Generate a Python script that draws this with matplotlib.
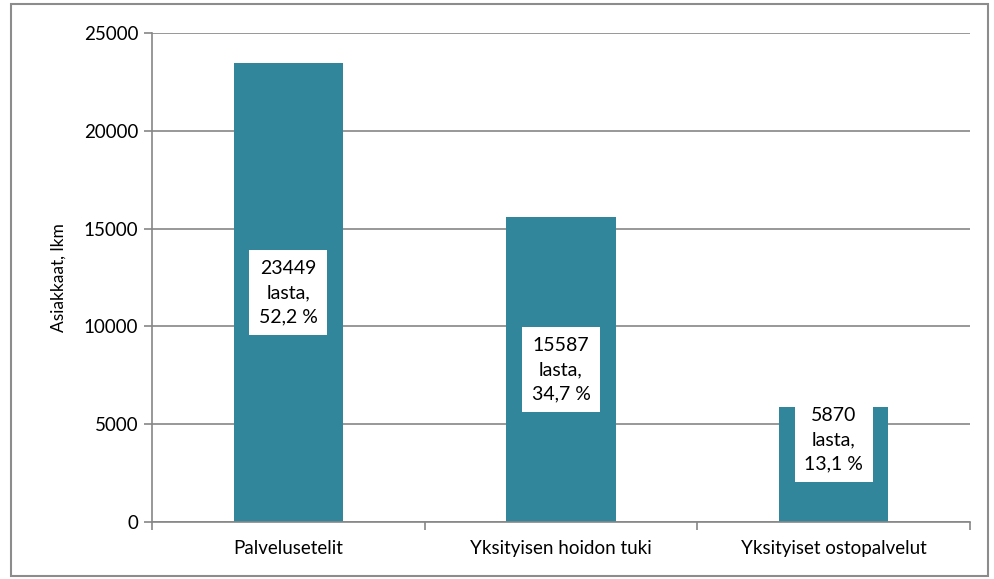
import numpy as np
import matplotlib.pyplot as plt
from matplotlib.patches import Rectangle

plt.rcParams['font.family'] = ['Lato', 'DejaVu Sans']

categories = ["Palvelusetelit", "Yksityisen hoidon tuki", "Yksityiset ostopalvelut"]
values = [23449, 15587, 5870]
shares = ["52,2 %", "34,7 %", "13,1 %"]

bar_color = "#31869B"
grid_color = "#868686"

fig = plt.figure(figsize=(9.95, 5.79), dpi=100)
ax = fig.add_axes([152 / 995, 1 - 522 / 579, 818 / 995, 489 / 579])

# outer chart frame
fig.patches.append(Rectangle((11 / 995, 1 - 576 / 579), 977 / 995, 572 / 579,
                             transform=fig.transFigure, fill=False,
                             edgecolor="#8c8c8c", linewidth=1.5))

x = np.arange(len(categories))
ax.bar(x, values, width=0.4, color=bar_color, zorder=2)

ax.set_xlim(-0.5, len(categories) - 0.5)
ax.set_ylim(0, 25000)
ax.set_yticks(np.arange(0, 25001, 5000))
ax.yaxis.grid(True, color=grid_color, linewidth=1.2, zorder=0)
ax.set_axisbelow(True)

ax.set_xticks(x)
ax.set_xticklabels(categories, fontsize=13.5)
ax.tick_params(axis='x', length=0, pad=13)
ax.set_xticks(np.arange(-0.5, len(categories)), minor=True)
ax.tick_params(axis='x', which='minor', length=6, color=grid_color, width=1.2)
ax.tick_params(axis='y', length=6, color=grid_color, width=1.2, labelsize=13.5, pad=4)

for side in ['top', 'right']:
    ax.spines[side].set_visible(False)
for side in ['left', 'bottom']:
    ax.spines[side].set_color(grid_color)
    ax.spines[side].set_linewidth(1.2)

ax.set_ylabel("Asiakkaat, lkm", fontsize=12.5, labelpad=12)

for xi, v, s in zip(x, values, shares):
    txt = f"{v}\nlasta,\n{s}"
    if v > 10000:
        ax.text(xi, v / 2, txt, ha='center', va='center', fontsize=14, zorder=3,
                linespacing=1.5,
                bbox=dict(facecolor='white', edgecolor='none', pad=7))
    else:
        ax.text(xi, v, txt, ha='center', va='top', fontsize=14, zorder=3,
                linespacing=1.5,
                bbox=dict(facecolor='white', edgecolor='none', pad=7))

fig.savefig("out.png", dpi=100)
